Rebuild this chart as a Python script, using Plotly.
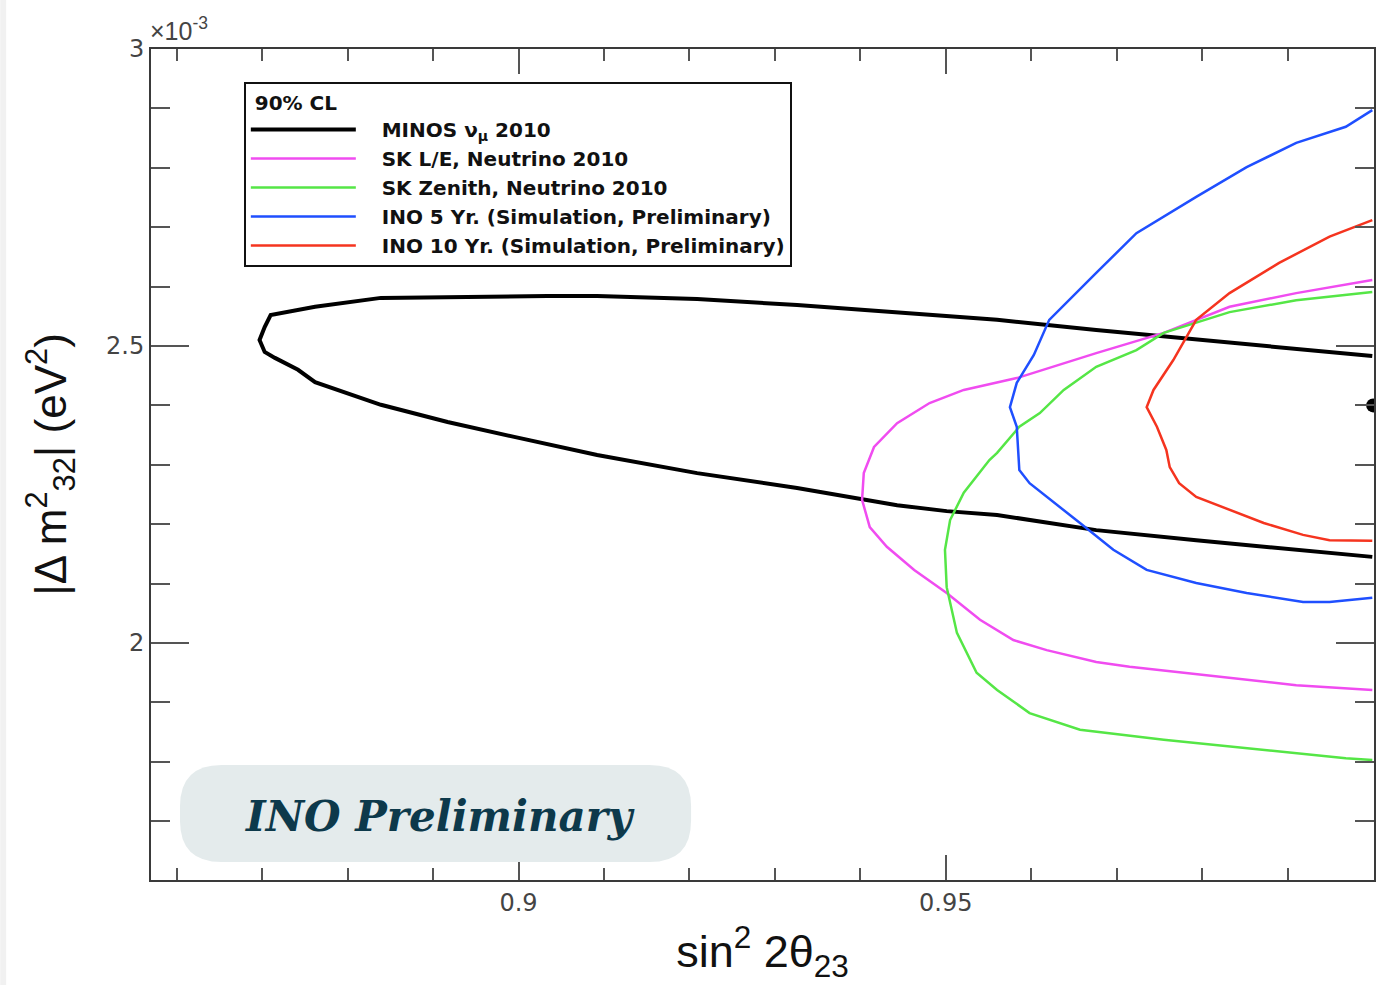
import plotly.graph_objects as go

# ---------------- data (sin^2 2theta23, |dm^2_32| in 1e-3 eV^2) ----------------
minos_x = [0.9999, 0.9910, 0.9793, 0.9676, 0.9560, 0.9443, 0.9326, 0.9209, 0.9092, 0.9034,
           0.8897, 0.8839, 0.8762, 0.8710, 0.8703, 0.8697, 0.8703, 0.8715, 0.8742, 0.8762,
           0.8839, 0.8917, 0.8995, 0.9092, 0.9209, 0.9326, 0.9443, 0.9501, 0.9560, 0.9676,
           0.9793, 0.9910, 0.9999]
minos_y = [2.483, 2.495, 2.510, 2.527, 2.544, 2.556, 2.569, 2.579, 2.584, 2.584,
           2.5825, 2.581, 2.566, 2.552, 2.532, 2.510, 2.490, 2.480, 2.460, 2.439,
           2.401, 2.372, 2.347, 2.3165, 2.286, 2.261, 2.232, 2.222, 2.2155, 2.190,
           2.173, 2.158, 2.145]

skle_x = [0.9999, 0.9910, 0.9832, 0.9755, 0.9676, 0.9583, 0.9521, 0.9481, 0.9443, 0.9416,
          0.9404, 0.9402, 0.9411, 0.9431, 0.9463, 0.9501, 0.9540, 0.9579, 0.9618, 0.9676,
          0.9715, 0.9832, 0.9910, 0.9999]
skle_y = [2.611, 2.589, 2.566, 2.522, 2.488, 2.446, 2.426, 2.404, 2.370, 2.330,
          2.286, 2.241, 2.195, 2.162, 2.123, 2.084, 2.039, 2.005, 1.988, 1.968,
          1.960, 1.941, 1.929, 1.921]

skzen_x = [0.9999, 0.9910, 0.9832, 0.9785, 0.9755, 0.9723, 0.9676, 0.9638, 0.9610, 0.9586,
           0.9560, 0.9551, 0.9521, 0.9505, 0.9499, 0.9501, 0.9513, 0.9536, 0.9560, 0.9598,
           0.9657, 0.9755, 0.9872, 0.9968, 0.9999]
skzen_y = [2.591, 2.577, 2.557, 2.535, 2.522, 2.493, 2.465, 2.426, 2.387, 2.364,
           2.320, 2.308, 2.253, 2.207, 2.157, 2.094, 2.017, 1.950, 1.921, 1.882,
           1.854, 1.837, 1.820, 1.806, 1.803]

ino5_x = [0.9999, 0.9968, 0.9910, 0.9852, 0.9793, 0.9723, 0.9676, 0.9621, 0.9603, 0.9583,
          0.9575, 0.9583, 0.9586, 0.9598, 0.9657, 0.9696, 0.9735, 0.9793, 0.9852, 0.9918,
          0.9949, 0.9999]
ino5_y = [2.897, 2.869, 2.842, 2.801, 2.751, 2.690, 2.623, 2.544, 2.485, 2.438,
          2.397, 2.364, 2.291, 2.269, 2.202, 2.157, 2.123, 2.101, 2.084, 2.069,
          2.069, 2.076]

ino10_x = [0.9999, 0.9949, 0.9890, 0.9832, 0.9793, 0.9778, 0.9766, 0.9743, 0.9735, 0.9747,
           0.9758, 0.9762, 0.9773, 0.9793, 0.9832, 0.9872, 0.9918, 0.9949, 0.9999]
ino10_y = [2.712, 2.684, 2.640, 2.589, 2.544, 2.505, 2.476, 2.426, 2.397, 2.364,
           2.325, 2.296, 2.269, 2.246, 2.224, 2.202, 2.182, 2.173, 2.172]

best_x = [1.0]
best_y = [2.4]

series_names = ["MINOS ν<sub>μ</sub> 2010", "SK L/E, Neutrino 2010", "SK Zenith, Neutrino 2010",
                "INO 5 Yr. (Simulation, Preliminary)", "INO 10 Yr. (Simulation, Preliminary)"]
series_colors = ["#000000", "#f04cf0", "#55e646", "#1f4fff", "#f5341f"]
series_widths = [4, 2.5, 2.5, 2.5, 2.5]

x_range = [0.8570, 1.0001]
y_range = [1.601, 3.0]

# ---------------- figure ----------------
fig = go.Figure()
series = [(minos_x, minos_y), (skle_x, skle_y), (skzen_x, skzen_y), (ino5_x, ino5_y), (ino10_x, ino10_y)]
pad = "\u00a0\u00a0\u00a0"
for (xs, ys), name, col, w in zip(series, series_names, series_colors, series_widths):
    fig.add_trace(go.Scatter(x=xs, y=ys, mode="lines", name=pad + name,
                             line=dict(color=col, width=w)))

fig.add_trace(go.Scatter(x=best_x, y=best_y, mode="markers", showlegend=False,
                         marker=dict(color="black", size=14), cliponaxis=False))

axis_common = dict(showline=True, linecolor="#3a3a3a", linewidth=2, mirror="ticks",
                   ticks="inside", tickwidth=2, tickcolor="#555555",
                   showgrid=False, zeroline=False,
                   tickfont=dict(family="DejaVu Sans", size=24, color="#444444"))

fig.update_xaxes(range=x_range, tick0=0, dtick=0.05, ticklen=25,
                 minor=dict(dtick=0.01, ticklen=12, tickwidth=2, tickcolor="#555555", ticks="inside"),
                 title=dict(text="sin<sup>2</sup> 2θ<sub>23</sub>", standoff=20,
                            font=dict(family="Liberation Sans", size=45, color="#111111")),
                 **axis_common)
fig.update_yaxes(range=y_range, tick0=0, dtick=0.5, ticklen=38,
                 minor=dict(dtick=0.1, ticklen=19, tickwidth=2, tickcolor="#555555", ticks="inside"),
                 title=dict(text="|Δ m<sup>2</sup><sub>32</sub>| (eV<sup>2</sup>)", standoff=26,
                            font=dict(family="Liberation Sans", size=44, color="#111111")),
                 **axis_common)

fig.update_layout(
    width=1376, height=985, autosize=False,
    margin=dict(l=151, r=0, t=49, b=105),
    paper_bgcolor="white", plot_bgcolor="white",
    showlegend=True,
    legend=dict(x=0.0759, y=0.9603, xanchor="left", yanchor="top",
                bgcolor="white", bordercolor="#111111", borderwidth=2,
                itemwidth=105,
                title=dict(text="\u00a090% CL", font=dict(family="DejaVu Sans", size=20, color="#111111", weight="bold")),
                font=dict(family="DejaVu Sans", size=20, color="#111111", weight="bold")),
)

# x10^-3 multiplier
fig.add_annotation(xref="paper", yref="paper", x=0.0, y=1.0, xanchor="left", yanchor="bottom",
                   text="×10<sup>-3</sup>", showarrow=False, yshift=2, xshift=-3,
                   font=dict(family="Liberation Sans", size=25, color="#444444"))

# rounded "INO Preliminary" box (paper coordinates)
bx0, bx1, by0, by1 = 0.0237, 0.4416, 0.0217, 0.1384
rx, ry = 0.034, 0.05
path = (f"M {bx0+rx},{by0} L {bx1-rx},{by0} Q {bx1},{by0} {bx1},{by0+ry} "
        f"L {bx1},{by1-ry} Q {bx1},{by1} {bx1-rx},{by1} L {bx0+rx},{by1} "
        f"Q {bx0},{by1} {bx0},{by1-ry} L {bx0},{by0+ry} Q {bx0},{by0} {bx0+rx},{by0} Z")
fig.add_shape(type="path", path=path, xref="paper", yref="paper",
              fillcolor="#e4ebec", line=dict(width=0), layer="above")
fig.add_annotation(xref="paper", yref="paper", x=0.2367, y=0.077, xanchor="center", yanchor="middle",
                   text="<b><i>INO Preliminary</i></b>", showarrow=False,
                   font=dict(family="DejaVu Serif", size=42, color="#0d394b"))

# light strip at the far left of the page
fig.add_shape(type="rect", xref="paper", yref="paper", x0=-0.1233, x1=-0.1184, y0=-0.13, y1=1.06,
              fillcolor="#f1f1f1", line=dict(width=0), layer="below")

fig.write_html("out.html", config={"displayModeBar": False}, post_script=(
    "document.body.style.margin='0';"
    "document.body.style.overflow='hidden';"
    "document.documentElement.style.overflow='hidden';"))
